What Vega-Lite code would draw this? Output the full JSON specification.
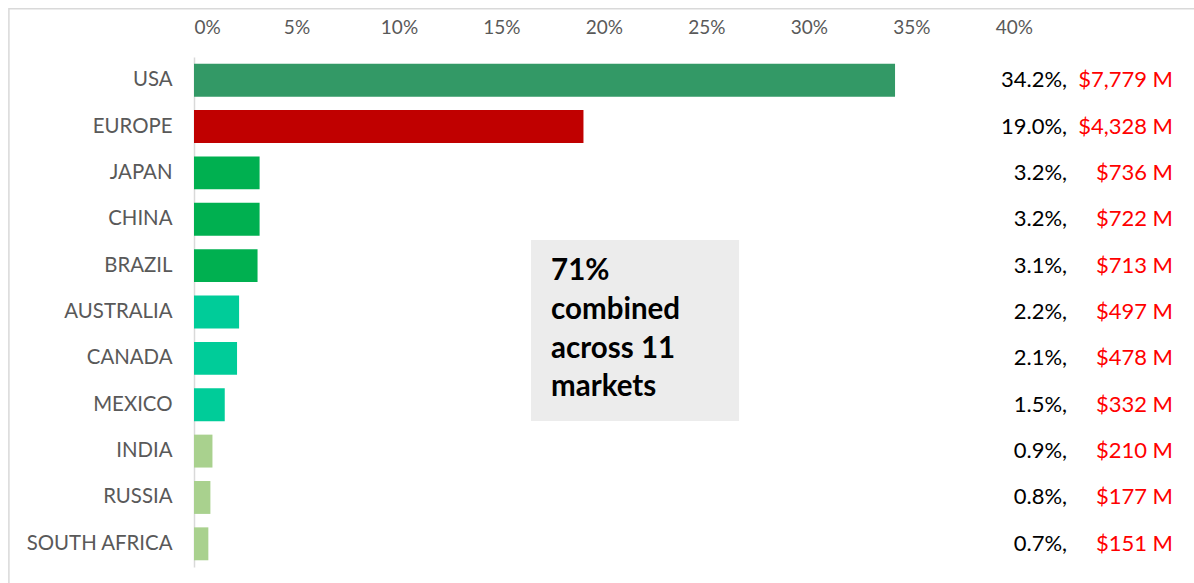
{
  "$schema": "https://vega.github.io/schema/vega-lite/v6.json",
  "width": 979,
  "height": 510,
  "autosize": {"type": "none"},
  "padding": {"left": 194, "top": 57, "right": 21, "bottom": 16},
  "background": "white",
  "config": {"view": {"stroke": null}, "font": "Lato"},
  "resolve": {"scale": {"y": "independent"}},
  "layer": [
    {
      "data": {"values": [{}]},
      "layer": [
        {
          "mark": {"type": "rect", "fill": null, "fillOpacity": 0, "stroke": "#d9d9d9", "strokeWidth": 1.5, "clip": false},
          "encoding": {
            "x": {"datum": -0.0903, "type": "quantitative", "scale": {"domain": [0, 0.4776]}},
            "x2": {"datum": 0.495},
            "y": {"datum": -1.04, "type": "quantitative", "scale": {"domain": [0, 11], "reverse": true}, "axis": null},
            "y2": {"datum": 11.8}
          }
        },
        {
          "mark": {"type": "rect", "fill": "#ececec"},
          "encoding": {
            "x": {"datum": 0.1644, "type": "quantitative", "scale": {"domain": [0, 0.4776]}},
            "x2": {"datum": 0.2659},
            "y": {"datum": 3.947, "type": "quantitative", "scale": {"domain": [0, 11], "reverse": true}, "axis": null},
            "y2": {"datum": 7.85}
          }
        },
        {
          "mark": {"type": "text", "align": "left", "baseline": "alphabetic", "fontSize": 29.5, "fontWeight": "bold", "color": "#000000", "lineHeight": 38.8},
          "encoding": {
            "text": {"value": ["71%", "combined", "across 11", "markets"]},
            "x": {"datum": 0.1742, "type": "quantitative", "scale": {"domain": [0, 0.4776]}},
            "y": {"datum": 4.81, "type": "quantitative", "scale": {"domain": [0, 11], "reverse": true}, "axis": null}
          }
        }
      ]
    },
    {
      "data": {
        "values": [
          {"market": "USA", "share": 0.342, "revenue": 7779, "tier": "USA"},
          {"market": "EUROPE", "share": 0.190, "revenue": 4328, "tier": "Europe"},
          {"market": "JAPAN", "share": 0.032, "revenue": 736, "tier": "Tier 2"},
          {"market": "CHINA", "share": 0.032, "revenue": 722, "tier": "Tier 2"},
          {"market": "BRAZIL", "share": 0.031, "revenue": 713, "tier": "Tier 2"},
          {"market": "AUSTRALIA", "share": 0.022, "revenue": 497, "tier": "Tier 3"},
          {"market": "CANADA", "share": 0.021, "revenue": 478, "tier": "Tier 3"},
          {"market": "MEXICO", "share": 0.015, "revenue": 332, "tier": "Tier 3"},
          {"market": "INDIA", "share": 0.009, "revenue": 210, "tier": "Tier 4"},
          {"market": "RUSSIA", "share": 0.008, "revenue": 177, "tier": "Tier 4"},
          {"market": "SOUTH AFRICA", "share": 0.007, "revenue": 151, "tier": "Tier 4"}
        ]
      },
      "transform": [
        {"calculate": "format(datum.share, '.1%') + ','", "as": "pctLabel"},
        {"calculate": "format(datum.revenue, '$,') + ' M'", "as": "revLabel"}
      ],
      "encoding": {
        "y": {
          "field": "market",
          "type": "nominal",
          "sort": null,
          "scale": {"paddingInner": 0.29, "paddingOuter": 0.145},
          "axis": {
            "title": null,
            "ticks": false,
            "domain": true,
            "domainColor": "#d9d9d9",
            "domainWidth": 1.5,
            "labelColor": "#595959",
            "labelFontSize": 20.4,
            "labelFont": "Lato",
            "labelPadding": 22
          }
        }
      },
      "layer": [
        {
          "mark": {"type": "bar"},
          "encoding": {
            "x": {
              "field": "share",
              "type": "quantitative",
              "scale": {"domain": [0, 0.4776], "nice": false},
              "axis": {
                "orient": "top",
                "values": [0, 0.05, 0.1, 0.15, 0.2, 0.25, 0.3, 0.35, 0.4],
                "format": ".0%",
                "title": null,
                "ticks": false,
                "domain": false,
                "grid": false,
                "labelColor": "#595959",
                "labelFontSize": 19,
                "labelFont": "Lato",
                "labelPadding": 20
              }
            },
            "color": {
              "field": "tier",
              "type": "nominal",
              "scale": {
                "domain": ["USA", "Europe", "Tier 2", "Tier 3", "Tier 4"],
                "range": ["#339966", "#c00000", "#00b050", "#00cc99", "#a9d18e"]
              },
              "legend": null
            }
          }
        },
        {
          "mark": {"type": "text", "align": "right", "baseline": "middle", "fontSize": 22, "color": "#000000"},
          "encoding": {
            "text": {"field": "pctLabel"},
            "x": {"datum": 0.4259, "type": "quantitative", "scale": {"domain": [0, 0.4776]}}
          }
        },
        {
          "mark": {"type": "text", "align": "right", "baseline": "middle", "fontSize": 22, "color": "#ff0000"},
          "encoding": {
            "text": {"field": "revLabel"},
            "x": {"datum": 0.4776, "type": "quantitative", "scale": {"domain": [0, 0.4776]}}
          }
        }
      ]
    }
  ]
}
